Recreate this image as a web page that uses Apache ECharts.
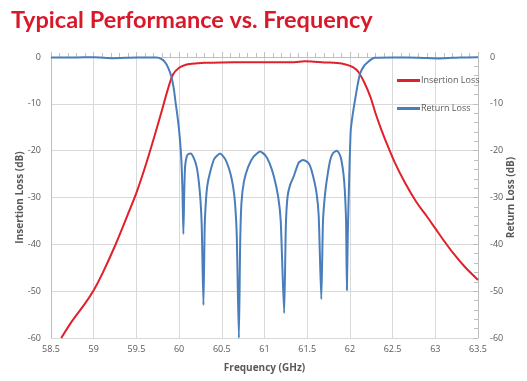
<!DOCTYPE html>
<html><head><meta charset="utf-8">
<script src="https://cdn.jsdelivr.net/npm/echarts@6/dist/echarts.min.js"></script>
<style>html,body{margin:0;padding:0;background:#fff;overflow:hidden}#c{width:527px;height:381px}</style>
</head><body><div id="c"></div>
<script>
const titleText = 'Typical Performance vs. Frequency';
const xTicks = {min: 58.5, max: 63.5, interval: 0.5};
const yTicks = {min: -60, max: 0, interval: 10};

const ilFreq = [58.62,58.75,58.9,59.0,59.1,59.25,59.4,59.5,59.6,59.7,59.8,59.87,59.93,60.0,60.07,60.15,60.3,60.5,60.8,61.1,61.35,61.47,61.55,61.7,61.85,61.95,62.04,62.1,62.17,62.24,62.3,62.37,62.45,62.53,62.65,62.78,62.9,63.0,63.1,63.21,63.35,63.5];
const ilVals = [-60,-56.3,-52.6,-49.8,-46.3,-40.3,-33.6,-29.0,-23.6,-17.6,-11.3,-6.8,-3.7,-2.3,-1.7,-1.45,-1.25,-1.15,-1.1,-1.1,-1.1,-0.9,-0.95,-1.15,-1.3,-1.6,-2.2,-3.2,-5.5,-8.5,-12,-15.6,-19.3,-22.7,-27.0,-31.0,-34.0,-36.6,-39.2,-41.9,-44.9,-47.6];

const rlFreq = [58.5,58.8,59.0,59.23,59.5,59.74,59.79,59.83,59.87,59.91,59.94,59.96,59.98,60.0,60.02,60.03,60.04,60.05,60.06,60.07,60.09,60.11,60.136,60.17,60.205,60.23,60.25,60.265,60.285,60.30,60.315,60.33,60.36,60.41,60.48,60.54,60.6,60.635,60.655,60.675,60.70,60.715,60.73,60.76,60.81,60.87,60.95,61.01,61.06,61.11,61.16,61.19,61.23,61.25,61.27,61.3,61.34,61.4,61.45,61.5,61.53,61.57,61.61,61.635,61.665,61.685,61.71,61.74,61.77,61.8,61.845,61.88,61.90,61.925,61.94,61.955,61.965,61.975,61.99,62.01,62.035,62.06,62.09,62.12,62.17,62.215,62.26,62.29,62.5,62.8,63.05,63.3,63.5];
const rlVals = [-0.1,-0.1,-0.05,-0.25,-0.1,-0.1,-0.4,-1.0,-2.2,-4.2,-7,-9.9,-12.5,-15.6,-20,-23.4,-29,-37.8,-29,-23.4,-21.2,-20.7,-20.6,-21.5,-23.4,-26.5,-30.5,-36,-53.0,-36,-30.5,-27.5,-24.8,-21.8,-20.6,-21.8,-24.8,-28,-31.2,-38,-60,-40,-31.2,-26.5,-23.4,-21.3,-20.2,-21,-22.7,-25.5,-29.8,-35,-54.7,-36,-29.8,-27.3,-25.6,-22.6,-22.0,-22.4,-23.1,-25.5,-29.1,-34,-51.7,-35,-29.1,-25,-22.0,-20.6,-20.0,-20.8,-22.0,-25,-28.4,-35,-49.8,-38,-27,-15.6,-12,-9.2,-6,-3.5,-1.8,-1.0,-0.4,-0.15,-0.1,-0.15,-0.3,-0.1,-0.05];

const zip = (a, b) => a.map((v, i) => [v, b[i]]);
const font = "'Open Sans', 'Noto Sans', sans-serif";
const gray = '#595959';

const chart = echarts.init(document.getElementById('c'), null, {renderer: 'canvas'});
chart.setOption({
  animation: false,
  title: {
    text: titleText, left: 6, top: 3,
    textStyle: {color: '#d7192a', fontSize: 23.5, fontWeight: 'bold', fontFamily: "Lato, 'Open Sans', sans-serif"}
  },
  grid: {left: 51, right: 49, top: 57, bottom: 43, containLabel: false, outerBoundsMode: 'none'},
  legend: {
    orient: 'vertical', left: 397, top: 76, itemGap: 19, padding: 0,
    icon: 'rect', itemWidth: 23, itemHeight: 3,
    textStyle: {fontSize: 9, color: gray, fontFamily: font, padding: [0,0,0,-4]},
    data: ['Insertion Loss', 'Return Loss']
  },
  xAxis: {
    type: 'value', min: xTicks.min, max: xTicks.max, interval: xTicks.interval,
    name: 'Frequency (GHz)', nameLocation: 'middle', nameGap: 25, nameMoveOverlap: false,
    nameTextStyle: {fontSize: 10, fontWeight: 'bold', color: gray, fontFamily: font},
    axisLine: {lineStyle: {color: '#bfbfbf'}},
    axisTick: {show: true, inside: true, length: 5, lineStyle: {color: '#bfbfbf'}},
    minorTick: {show: true, splitNumber: 5, length: 4, lineStyle: {color: '#bfbfbf'}},
    axisLabel: {fontSize: 9, color: gray, fontFamily: font, margin: 7},
    splitLine: {show: true, lineStyle: {color: '#d9d9d9'}}
  },
  yAxis: [{
    type: 'value', min: yTicks.min, max: yTicks.max, interval: yTicks.interval, position: 'left',
    name: 'Insertion Loss (dB)', nameLocation: 'middle', nameGap: 26, nameMoveOverlap: false,
    nameTextStyle: {fontSize: 10, fontWeight: 'bold', color: gray, fontFamily: font},
    axisLine: {show: true, lineStyle: {color: '#bfbfbf'}},
    axisTick: {show: false},
    axisLabel: {fontSize: 9, color: gray, fontFamily: font, margin: 10},
    splitLine: {show: true, lineStyle: {color: '#d9d9d9'}}
  }, {
    type: 'value', min: yTicks.min, max: yTicks.max, interval: yTicks.interval, position: 'right',
    name: 'Return Loss (dB)', nameLocation: 'middle', nameGap: 28, nameMoveOverlap: false,
    nameTextStyle: {fontSize: 10, fontWeight: 'bold', color: gray, fontFamily: font},
    axisLine: {show: true, lineStyle: {color: '#bfbfbf'}},
    axisTick: {show: true, inside: true, length: 5, lineStyle: {color: '#bfbfbf'}},
    minorTick: {show: true, splitNumber: 5, length: 4, lineStyle: {color: '#bfbfbf'}},
    axisLabel: {fontSize: 9, color: gray, fontFamily: font, margin: 12},
    splitLine: {show: false}
  }],
  series: [{
    name: 'Insertion Loss', type: 'line', yAxisIndex: 0, data: zip(ilFreq, ilVals),
    showSymbol: false, smooth: 0.3, color: '#e0202a', lineStyle: {width: 2, color: '#e0202a'}, z: 2
  }, {
    name: 'Return Loss', type: 'line', yAxisIndex: 1, data: zip(rlFreq, rlVals),
    showSymbol: false, smooth: 0.2, color: '#4a7ebb', lineStyle: {width: 2, color: '#4a7ebb'}, z: 3
  }]
});
</script></body></html>
